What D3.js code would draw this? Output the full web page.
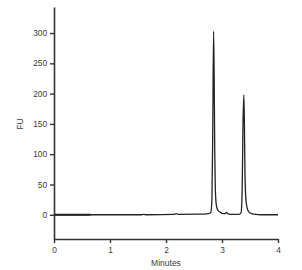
<!DOCTYPE html>
<html>
<head>
<meta charset="utf-8">
<script src="https://cdn.jsdelivr.net/npm/d3@7"></script>
<style>
  body { margin: 0; background: #fff; }
  text { font-family: "Liberation Sans", Arial, sans-serif; }
</style>
</head>
<body>
<svg id="chart" width="302" height="270"></svg>
<script>
// chromatogram trace (minutes, FU)
var trace_time = [0, 0.65, 1.55, 1.6, 1.65, 2.15, 2.18, 2.22, 2.6, 2.76, 2.8, 2.82, 2.835, 2.85, 2.86, 2.87, 2.88, 2.9, 2.93, 2.97, 3.02, 3.06, 3.08, 3.11, 3.2, 3.3, 3.34, 3.36, 3.375, 3.39, 3.4, 3.41, 3.43, 3.46, 3.5, 3.58, 3.7, 4.0]
var trace_fu   = [0, 0,    0,    0.8, 0,    0.5,  2,    0.7,  1,   2,    4,   25,   140,   303,  230,  110,  45,   15,  7,    4,    2,    2,    4,    1.5,  0.5, 0.5, 3,    40,   150,   198,  150, 70,   22,   8,    3,   1,    0,   0]
var thick_end = 0.65   // heavier baseline segment at start

var x_ticks = [0, 1, 2, 3, 4]
var y_ticks = [0, 50, 100, 150, 200, 250, 300]

var svg = d3.select("#chart")
var x_scale = d3.scaleLinear().domain([0, 4]).range([54, 278]),
    y_scale = d3.scaleLinear().domain([-40, 343]).range([239, 7])

var points = trace_time.map((t, i) => ({t: t, v: trace_fu[i]}))

// axes
var x_axis = svg.append("g")
  .attr("transform", "translate(0," + y_scale(-40) + ")")
  .call(d3.axisBottom(x_scale).tickValues(x_ticks).tickSize(4).tickSizeOuter(0).tickFormat(d3.format("d")))
var y_axis = svg.append("g")
  .attr("transform", "translate(" + x_scale(0) + ",0)")
  .call(d3.axisLeft(y_scale).tickValues(y_ticks).tickSize(4).tickSizeOuter(0))

svg.selectAll(".domain").style("stroke", "#333").style("stroke-width", 1.6)
svg.selectAll(".tick line").style("stroke", "#333").style("stroke-width", 1.4)
svg.selectAll(".tick text").style("fill", "#3a3a3a").style("font-size", "8.3px")
x_axis.selectAll(".tick text").attr("dy", "0.9em")

// trace
var line = d3.line()
  .x(d => x_scale(d.t))
  .y(d => y_scale(d.v))
  .curve(d3.curveMonotoneX)

svg.append("path")
  .datum(points)
  .attr("d", line)
  .style("fill", "none")
  .style("stroke", "#222")
  .style("stroke-width", 1.3)

svg.append("path")
  .datum(points.filter(d => d.t <= thick_end))
  .attr("d", line)
  .style("fill", "none")
  .style("stroke", "#222")
  .style("stroke-width", 1.9)

// axis titles
svg.append("text")
  .attr("x", (x_scale(0) + x_scale(4)) / 2)
  .attr("y", 266)
  .attr("text-anchor", "middle")
  .style("font-size", "8.5px")
  .style("fill", "#3a3a3a")
  .text("Minutes")

svg.append("text")
  .attr("transform", "translate(23," + y_scale(150) + ") rotate(-90)")
  .attr("text-anchor", "middle")
  .style("font-size", "8.5px")
  .style("fill", "#3a3a3a")
  .text("FU")
</script>
</body>
</html>
